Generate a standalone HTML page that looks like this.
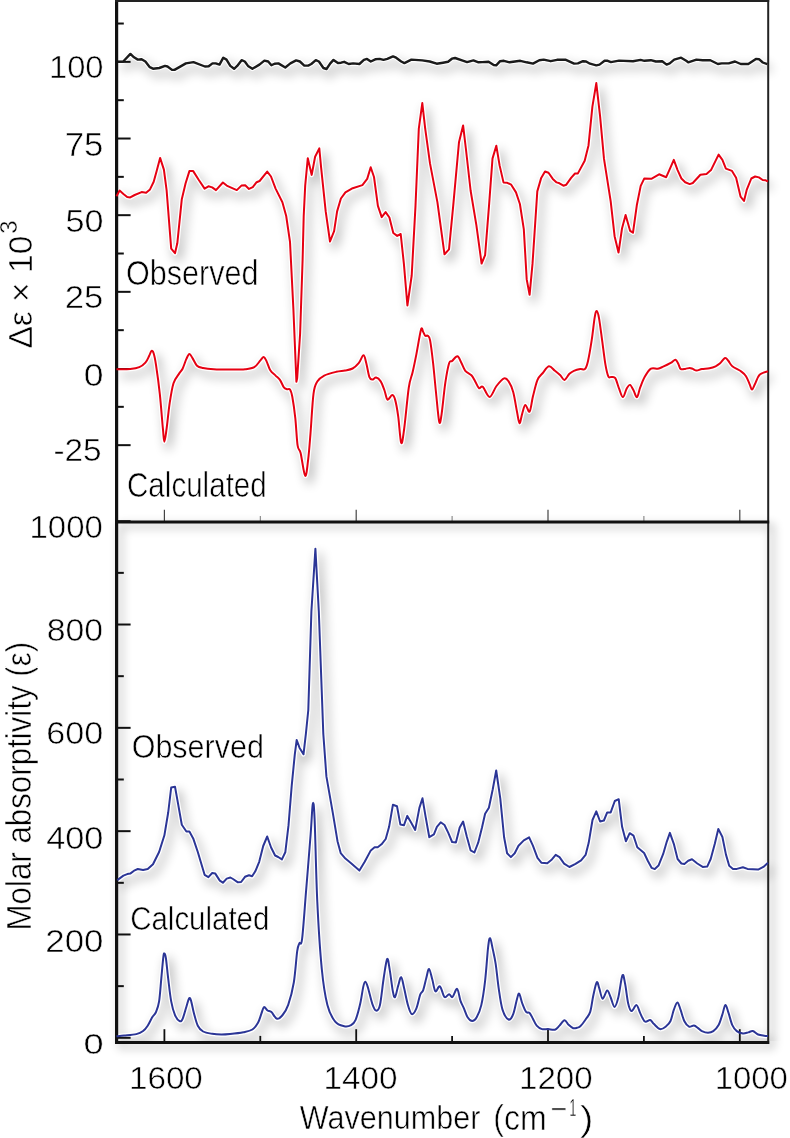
<!DOCTYPE html>
<html><head><meta charset="utf-8"><title>Spectra</title>
<style>
html,body{margin:0;padding:0;background:#fff;}
svg{display:block;}
text{font-family:"Liberation Sans",sans-serif;fill:#000;stroke:#fff;stroke-width:0.5px;}
</style></head><body>
<svg width="790" height="1138" viewBox="0 0 790 1138">
<defs>
<filter id="blur" x="-10%" y="-10%" width="120%" height="120%"><feGaussianBlur stdDeviation="5.5"/></filter>
<filter id="blur2" x="-10%" y="-10%" width="120%" height="120%"><feGaussianBlur stdDeviation="5"/></filter>
<clipPath id="cp"><rect x="118" y="2" width="672" height="1039"/></clipPath><clipPath id="cp2"><rect x="115" y="0" width="654" height="1044"/></clipPath>
</defs>
<rect width="790" height="1138" fill="#fff"/>

<g filter="url(#blur2)" opacity="0.2"><rect x="120.6" y="526.0" width="651.6" height="520.5" fill="none" stroke="#000" stroke-width="5"/></g>
<g clip-path="url(#cp)"><g filter="url(#blur)" opacity="0.27" transform="translate(4,6)">
<path d="M117.8,61.7 L123.2,61.5 L130.4,53.9 L134,57.3 L137.8,59.6 L141.6,59.2 L145.4,61.5 L149.8,67.2 L153,68.7 L159.3,68 L165,65.9 L167.5,66.5 L172,69.9 L174.5,69.9 L185.9,63.4 L193.5,62.1 L204.9,66.5 L208.7,66.3 L212.5,63.4 L215.7,63.4 L219.5,64.6 L223.3,57.7 L226.5,59.6 L230.3,65.9 L234.1,68.8 L237.2,65.9 L241.6,60.2 L244.8,61.5 L248,65.9 L252.4,68.8 L259.4,64.6 L264.4,60.6 L268.2,61.5 L271.4,65.3 L274.6,63.7 L278.4,63.4 L285.3,67.5 L290.4,63.4 L296.1,60.4 L299.9,61.5 L304.3,65.6 L308.2,65.6 L311.3,64 L315.8,60.2 L318.9,61.5 L323.4,68 L326.5,69 L330.3,63.4 L333.5,59.9 L337.9,63 L341.1,62.7 L344.2,61.8 L348.7,64 L353.1,63.4 L359.4,64 L363.9,59.9 L367,58.9 L370.8,61.5 L375.3,59.3 L379.7,58.9 L383.5,59.9 L387.3,58.9 L393,56.4 L396.1,57.7 L401.2,61.5 L404.4,63.1 L411.4,59.6 L422.2,60.4 L429.7,61.5 L436.7,63.7 L443,62.7 L448.1,61.8 L451.9,58.7 L455.1,58 L462,60.4 L467.1,62.1 L473.4,60.4 L478.5,62.3 L482.3,62.1 L488.6,61.7 L493.7,65 L496.2,65.3 L500.1,61.2 L503.9,60.8 L509.6,62.3 L520.3,60.8 L526.6,62.3 L533,63.6 L539.3,60.2 L543.7,59.6 L550.7,61.2 L557,59.8 L565.9,59.8 L574.1,63.6 L577.9,63.4 L583,61.2 L586.1,61.5 L590,63.7 L596.3,65.3 L599.5,64.6 L604.6,60.8 L607.1,60.6 L610.9,62.1 L619.1,60.6 L633,61.2 L640.6,59.9 L644.4,60.8 L650.8,60.2 L655.8,61.5 L662.2,61.2 L666.6,64.6 L669.7,63.4 L674.2,59.6 L681.1,57.7 L686.2,60.8 L688.2,62.3 L696.4,59.6 L702.7,60.2 L710.3,60.2 L717.9,64 L721.7,63.4 L728.7,63.4 L735,61.5 L740.7,64 L748.3,64 L755.9,58.9 L759,59.2 L762.8,62.5 L767.3,64.2" fill="none" stroke="#000" stroke-width="5" stroke-linejoin="round"/>
<path d="M116.5,196.2 L119.6,190.6 L123.4,193.9 L127.2,197 L130.2,197.4 L134.7,195 L141.6,192.1 L146.1,192.7 L150,189.4 L153.7,181.8 L156.8,170.4 L160.1,157.9 L163.9,169.6 L166.6,190.1 L171.2,248.6 L175,253.2 L177.3,243.3 L181.8,199.2 L185.6,183.3 L189.4,171.1 L193.2,171.1 L198.5,179.5 L204.6,188.6 L208.4,186.3 L212.2,187.4 L216,190.1 L222.9,182.5 L226.7,185.6 L230,187.1 L236.8,190.1 L241.4,185.6 L245.2,185.3 L249,188.9 L252.8,187.1 L256.6,182.2 L259.6,181 L267.2,171.6 L271,176.5 L275.6,188.6 L282.4,202.3 L286.2,216 L290,241.8 L293.4,309.2 L296.4,381.8 L297.2,378 L300.1,333.8 L302.6,260 L303.7,216 L305.2,185.6 L307.8,158.2 L311.7,174.9 L315.1,156.7 L319.3,148.4 L321.1,167.3 L325.7,211.4 L330,241.5 L334.1,231.1 L337.1,211.4 L340.9,198.5 L345.4,192.4 L352.7,188.2 L362.4,185.1 L367.2,178.9 L370.7,167.3 L374,177 L377.9,205.9 L381.7,217.1 L385.6,212.1 L389.4,217.5 L393.3,233 L397.2,235.9 L400.7,234 L403.9,263.9 L407.4,305.5 L411.7,275.5 L415.5,205.9 L418.8,128.6 L422.3,103.1 L425.2,128.6 L430,163.4 L437.4,202.1 L444.5,254.3 L449,249.4 L453.2,205.9 L459,142.2 L463.1,125.4 L465.8,148 L470.6,190.5 L476.4,225.3 L481.6,263.5 L485.1,255.2 L489,205.9 L492.5,158.6 L496.3,145.7 L499.6,165.4 L503.5,182.4 L507.3,182.8 L511.2,184.7 L516,192.4 L519.9,204 L523.8,229.1 L526.7,279.4 L529.6,294.8 L532.5,263.9 L537.3,191.4 L541.2,177.9 L545,171.5 L548.5,172.7 L552.8,178.9 L556.6,182.4 L559.5,183.3 L563.4,185.7 L566.3,184.7 L571.1,177.9 L575,173.5 L577.9,173.4 L584.7,160.8 L588.5,145.4 L592.4,106.7 L596.3,83.1 L600.1,116.4 L604,158.9 L610.7,201.4 L614.6,236.2 L618.5,252.6 L622,228.5 L625.6,214.9 L630.1,230.8 L633,232.7 L636.8,205.3 L640.7,185.9 L644.2,178.6 L651.3,178.8 L659.1,174.3 L666.2,177.2 L670,168.6 L673.8,159.8 L677.6,170.1 L681.4,178.5 L685.2,182.3 L689.7,184.1 L692.8,183 L700.4,174.7 L706.5,173.9 L711,170.1 L718.6,154.6 L722.4,159.8 L725.9,168.6 L732,170.9 L736.1,177.7 L740.6,196.7 L744,201 L746.7,189.9 L751.3,178.5 L755.1,176.5 L758.9,177.4 L762.7,180 L765.7,180.3 L768,181.5" fill="none" stroke="#000" stroke-width="5" stroke-linejoin="round"/>
<path d="M116.5,369.2 C118.78,369.17 126.4,369.33 130.2,369 C134,368.67 136.77,368.25 139.3,367.2 C141.83,366.15 143.75,364.6 145.4,362.7 C147.05,360.8 148.18,357.78 149.2,355.8 C150.22,353.82 150.75,351.18 151.5,350.8 C152.25,350.42 152.95,351.15 153.7,353.5 C154.45,355.85 154.98,358.18 156,364.9 C157.02,371.62 158.65,383.17 159.8,393.8 C160.95,404.43 162.13,420.72 162.9,428.7 C163.67,436.68 163.78,441.7 164.4,441.7 C165.02,441.7 165.72,435.17 166.6,428.7 C167.48,422.23 168.55,410.48 169.7,402.9 C170.85,395.32 171.98,388 173.5,383.2 C175.02,378.4 177.28,376.52 178.8,374.1 C180.32,371.68 181.33,371.23 182.6,368.7 C183.87,366.17 185.27,361.35 186.4,358.9 C187.53,356.45 188.38,354.13 189.4,354 C190.42,353.87 191.23,356.15 192.5,358.1 C193.77,360.05 195.23,364.05 197,365.7 C198.77,367.35 200.32,367.42 203.1,368 C205.88,368.58 209.22,368.95 213.7,369.2 C218.18,369.45 224.75,369.5 230,369.5 C235.25,369.5 241.15,369.58 245.2,369.2 C249.25,368.82 251.77,368.67 254.3,367.2 C256.83,365.73 258.83,362.1 260.4,360.4 C261.97,358.7 262.68,356.88 263.7,357 C264.72,357.12 265.4,358.88 266.5,361.1 C267.6,363.32 268.78,367.88 270.3,370.3 C271.82,372.72 273.97,373.97 275.6,375.6 C277.23,377.23 278.72,378.13 280.1,380.1 C281.48,382.07 282.75,385.88 283.9,387.4 C285.05,388.92 285.98,388.85 287,389.2 C288.02,389.55 289.12,388.23 290,389.5 C290.88,390.77 291.42,392.03 292.3,396.8 C293.18,401.57 294.42,410 295.3,418.1 C296.18,426.2 296.72,439.58 297.6,445.4 C298.48,451.22 299.33,447.93 300.6,453 C301.87,458.07 303.93,474.78 305.2,475.8 C306.47,476.82 307.32,466.18 308.2,459.1 C309.08,452.02 309.62,444.18 310.5,433.3 C311.38,422.42 312.37,402.42 313.5,393.8 C314.63,385.18 315.52,384.63 317.3,381.6 C319.08,378.57 321.03,377.23 324.2,375.6 C327.37,373.97 332.83,372.65 336.3,371.8 C339.77,370.95 342.28,371.05 345,370.5 C347.72,369.95 350.32,369.72 352.6,368.5 C354.88,367.28 356.88,365.4 358.7,363.2 C360.52,361 362.23,355.3 363.5,355.3 C364.77,355.3 365.33,359.62 366.3,363.2 C367.27,366.78 368.3,374.07 369.3,376.8 C370.3,379.53 371.17,379.47 372.3,379.6 C373.43,379.73 374.7,377.3 376.1,377.6 C377.5,377.9 379.3,379.25 380.7,381.4 C382.1,383.55 383.37,387.47 384.5,390.5 C385.63,393.53 386.23,398.83 387.5,399.6 C388.77,400.37 390.83,395.1 392.1,395.1 C393.37,395.1 394.08,396.07 395.1,399.6 C396.12,403.13 397.18,409.08 398.2,416.3 C399.22,423.52 400.2,440.87 401.2,442.9 C402.2,444.93 402.93,437.73 404.2,428.5 C405.47,419.27 407.4,396.87 408.8,387.5 C410.2,378.13 411.33,377.87 412.6,372.3 C413.87,366.73 415,361.2 416.4,354.1 C417.8,347 419.87,333.38 421,329.7 C422.13,326.02 422.5,330.98 423.2,332 C423.9,333.02 424.43,335.17 425.2,335.8 C425.97,336.43 426.98,335.03 427.8,335.8 C428.62,336.57 429.22,335.83 430.1,340.4 C430.98,344.97 432.1,354.35 433.1,363.2 C434.1,372.05 435.08,383.75 436.1,393.5 C437.12,403.25 438.3,418.15 439.2,421.7 C440.1,425.25 440.48,421.27 441.5,414.8 C442.52,408.33 444.03,391.5 445.3,382.9 C446.57,374.3 447.97,366.87 449.1,363.2 C450.23,359.53 450.72,362.05 452.1,360.9 C453.48,359.75 455.88,356.05 457.4,356.3 C458.92,356.55 459.88,359.98 461.2,362.4 C462.52,364.82 463.6,368.65 465.3,370.8 C467,372.95 469.75,373.53 471.4,375.3 C473.05,377.07 473.93,379.25 475.2,381.4 C476.47,383.55 477.73,387.32 479,388.2 C480.27,389.08 481.03,385.25 482.8,386.7 C484.57,388.15 487.32,397.02 489.6,396.9 C491.88,396.78 494.08,389.08 496.5,386 C498.92,382.92 502.08,379.17 504.1,378.4 C506.12,377.63 507.08,379.13 508.6,381.4 C510.12,383.67 511.8,386.93 513.2,392 C514.6,397.07 515.95,406.6 517,411.8 C518.05,417 518.62,422.95 519.5,423.2 C520.38,423.45 521.33,416.35 522.3,413.3 C523.27,410.25 524.08,405.2 525.3,404.9 C526.52,404.6 528.33,412.88 529.6,411.5 C530.87,410.12 531.58,401.87 532.9,396.6 C534.22,391.33 535.85,383.83 537.5,379.9 C539.15,375.97 540.9,375.28 542.8,373 C544.7,370.72 546.88,366.57 548.9,366.2 C550.92,365.83 553,369.28 554.9,370.8 C556.8,372.32 558.7,373.78 560.3,375.3 C561.9,376.82 562.98,380.15 564.5,379.9 C566.02,379.65 567.83,375.32 569.4,373.8 C570.97,372.28 572.08,371.6 573.9,370.8 C575.72,370 578.47,369.3 580.3,369 C582.13,368.7 583.63,370.27 584.9,369 C586.17,367.73 586.77,366.22 587.9,361.4 C589.03,356.58 590.57,347.45 591.7,340.1 C592.83,332.75 593.87,322.15 594.7,317.3 C595.53,312.45 595.98,310.87 596.7,311 C597.42,311.13 598.07,313 599,318.1 C599.93,323.2 601.23,333.88 602.3,341.6 C603.37,349.32 604.38,358.57 605.4,364.4 C606.42,370.23 607.38,374.52 608.4,376.6 C609.42,378.68 610.35,376.65 611.5,376.9 C612.65,377.15 614.03,376.13 615.3,378.1 C616.57,380.07 617.83,385.53 619.1,388.7 C620.37,391.87 621.65,397.1 622.9,397.1 C624.15,397.1 625.42,390.73 626.6,388.7 C627.78,386.67 628.85,384.63 630,384.9 C631.15,385.17 632.33,388.27 633.5,390.3 C634.67,392.33 635.87,397.62 637,397.1 C638.13,396.58 638.98,390.62 640.3,387.2 C641.62,383.78 643.12,379.68 644.9,376.6 C646.68,373.52 648.85,370.02 651,368.7 C653.15,367.38 655.78,369.03 657.8,368.7 C659.82,368.37 660.95,367.67 663.1,366.7 C665.25,365.73 668.63,364.07 670.7,362.9 C672.77,361.73 674.22,359.5 675.5,359.7 C676.78,359.9 677.55,362.57 678.4,364.1 C679.25,365.63 679.47,368.1 680.6,368.9 C681.73,369.7 683.68,369.07 685.2,368.9 C686.72,368.73 688.43,367.9 689.7,367.9 C690.97,367.9 691.65,368.45 692.8,368.9 C693.95,369.35 695.08,370.57 696.6,370.6 C698.12,370.63 699.75,369.48 701.9,369.1 C704.05,368.72 707.22,368.77 709.5,368.3 C711.78,367.83 713.83,367.13 715.6,366.3 C717.37,365.47 718.53,364.68 720.1,363.3 C721.67,361.92 723.6,358.38 725,358 C726.4,357.62 727.28,359.62 728.5,361 C729.72,362.38 730.15,364.53 732.3,366.3 C734.45,368.07 739.12,369.95 741.4,371.6 C743.68,373.25 744.6,374.03 746,376.2 C747.4,378.37 748.8,382.37 749.8,384.6 C750.8,386.83 751.12,389.73 752,389.6 C752.88,389.47 753.83,386.28 755.1,383.8 C756.37,381.32 757.45,376.78 759.6,374.7 C761.75,372.62 766.6,371.87 768,371.3" fill="none" stroke="#000" stroke-width="5" stroke-linejoin="round"/>
<path d="M117.3,880.1 L123.4,875.6 L127.2,874.1 L130.2,873.6 L134.7,870.3 L137.8,869 L143.1,870 L147.7,869 L153,864.2 L159.1,852 L164.4,835.3 L168.2,812.5 L171.2,787.5 L175,786.7 L178,803.4 L181.8,824.7 L186.4,831.5 L189.4,831.5 L193.2,838.4 L197.8,852 L204.6,874.8 L208.4,877.1 L212.2,873 L215.3,873.6 L219.8,880.6 L222.9,882.7 L226.7,878.6 L230.4,877.5 L233,879 L237.9,882.3 L241.1,882 L245,876.8 L249,875.2 L252.1,876.3 L255.3,871.3 L259.2,861.8 L263.2,846 L267.2,836.5 L271.1,847.5 L275.1,855.5 L278.2,857 L281.9,859.4 L285.3,852.3 L288.5,825.4 L291.7,785.9 L294.8,754.3 L296.7,740 L299.6,747.9 L303.5,754.3 L305.9,733.7 L308.3,710 L311.4,611.2 L315.4,548.7 L318.8,611.2 L321.7,690 L323.3,733.7 L326.4,776.4 L332.8,812.8 L337.5,841.2 L340.7,853.1 L345.4,858.6 L351.1,863.3 L359.4,870.6 L364.7,861.8 L370.8,850.4 L374.6,847.3 L377.7,847.3 L381.5,844.3 L385.7,839 L389.1,826.8 L392.9,804.8 L397,806.3 L400.4,824.6 L403.9,825.3 L407.3,815.9 L411.1,822.6 L415.2,829.9 L419.4,807.9 L422.5,798.3 L425.5,816.2 L429.3,837.2 L433.9,834.4 L436.9,826.8 L440.7,822.3 L444.5,825 L448.3,832.9 L452.1,842 L455.9,842.5 L459.7,827.6 L463.1,821.6 L466.8,836.6 L470.6,850.3 L474.4,852.5 L478.2,842.7 L482,827.5 L485.1,813.8 L488.9,807.7 L492.7,789.5 L496.2,770.5 L500.3,798.6 L504.1,837.3 L507.1,853.3 L510.9,857.1 L514.7,853.3 L518.5,845.7 L523.8,840.4 L529.1,837.3 L532.9,845.7 L537.5,857.9 L541.3,862.7 L547.3,863.2 L551.9,859.4 L555.7,854.8 L559.5,857.1 L564.1,863.6 L569.4,867 L575.5,863.9 L581.1,860.3 L585.6,854.9 L588.7,842.8 L592.5,820 L596.3,811.3 L600.1,821.5 L603.9,820.5 L607.2,812.4 L610.7,812.4 L614.8,801 L618.7,799.2 L622.1,826.8 L625.9,841.3 L629.7,833.2 L633.5,835.6 L637.3,847.3 L644.1,853 L647.9,861 L651.7,867.9 L654.8,869.1 L658.5,865.6 L663.1,854.2 L666.9,841.3 L669.9,832.9 L673.8,843.8 L677.6,859 L681.4,863.5 L684.4,863.9 L688.2,860.8 L692,859.3 L697.3,863.5 L702.7,866.9 L707.2,866.6 L710.7,859 L714.8,843.8 L718.3,828.9 L722.4,837 L725.9,854.4 L729.2,865.8 L733,868.9 L736.8,868.9 L742.9,867.3 L747.5,868.9 L758.1,869.6 L763.4,866.9 L768,862.8" fill="none" stroke="#000" stroke-width="5" stroke-linejoin="round"/>
<path d="M116.5,1036.3 C117.77,1036.18 120.8,1035.97 124.1,1035.6 C127.4,1035.23 133.13,1034.87 136.3,1034.1 C139.47,1033.33 141.2,1032.4 143.1,1031 C145,1029.6 146.18,1027.98 147.7,1025.7 C149.22,1023.42 150.82,1019.58 152.2,1017.3 C153.58,1015.02 154.85,1014.65 156,1012 C157.15,1009.35 158.22,1006.97 159.1,1001.4 C159.98,995.83 160.6,985.95 161.3,978.6 C162,971.25 162.78,961.48 163.3,957.3 C163.82,953.12 163.97,953.37 164.4,953.5 C164.83,953.63 165.27,953.92 165.9,958.1 C166.53,962.28 167.32,971.38 168.2,978.6 C169.08,985.82 170.07,995.32 171.2,1001.4 C172.33,1007.48 173.6,1011.82 175,1015.1 C176.4,1018.38 178.33,1020.47 179.6,1021.1 C180.87,1021.73 181.47,1021.3 182.6,1018.9 C183.73,1016.5 185.32,1010.12 186.4,1006.7 C187.48,1003.28 188.33,999.42 189.1,998.4 C189.87,997.38 190.18,998.08 191,1000.6 C191.82,1003.12 192.87,1009.32 194,1013.5 C195.13,1017.68 196.28,1022.7 197.8,1025.7 C199.32,1028.7 200.7,1030.15 203.1,1031.5 C205.5,1032.85 209.17,1033.3 212.2,1033.8 C215.23,1034.3 218.33,1034.47 221.3,1034.5 C224.27,1034.53 226.32,1034.38 230,1034 C233.68,1033.62 239.67,1032.95 243.4,1032.2 C247.13,1031.45 249.97,1031.07 252.4,1029.5 C254.83,1027.93 256.52,1025.4 258,1022.8 C259.48,1020.2 260.3,1016.52 261.3,1013.9 C262.3,1011.28 262.95,1007.67 264,1007.1 C265.05,1006.53 266.37,1009.67 267.6,1010.5 C268.83,1011.33 269.83,1010.72 271.4,1012.1 C272.97,1013.48 275.13,1018.32 277,1018.8 C278.87,1019.28 280.73,1017.32 282.6,1015 C284.47,1012.68 286.33,1010.32 288.2,1004.9 C290.07,999.48 292.3,991.45 293.8,982.5 C295.3,973.55 296.27,957.73 297.2,951.2 C298.13,944.67 298.58,945.35 299.4,943.3 C300.22,941.25 300.98,947.67 302.1,938.9 C303.22,930.13 304.68,908.05 306.1,890.7 C307.52,873.35 309.48,849.27 310.6,834.8 C311.72,820.33 312.13,806.52 312.8,803.9 C313.47,801.28 313.85,802.77 314.6,819.1 C315.35,835.43 316.1,876.9 317.3,901.9 C318.5,926.9 320.12,951.93 321.8,969.1 C323.48,986.27 325.17,996.13 327.4,1004.9 C329.63,1013.67 332.4,1018.15 335.2,1021.7 C338,1025.25 341.55,1025.63 344.2,1026.2 C346.85,1026.77 349.2,1026.17 351.1,1025.1 C353,1024.03 354.08,1023.35 355.6,1019.8 C357.12,1016.25 358.93,1009.25 360.2,1003.8 C361.47,998.35 362.37,990.77 363.2,987.1 C364.03,983.43 364.43,981.8 365.2,981.8 C365.97,981.8 366.62,983.43 367.8,987.1 C368.98,990.77 370.92,999.88 372.3,1003.8 C373.68,1007.72 374.83,1010.35 376.1,1010.6 C377.37,1010.85 378.63,1010.73 379.9,1005.3 C381.17,999.87 382.48,985.72 383.7,978 C384.92,970.28 386.18,960.27 387.2,959 C388.22,957.73 388.85,964.97 389.8,970.4 C390.75,975.83 392.02,987.17 392.9,991.6 C393.78,996.03 394.22,998 395.1,997 C395.98,996 397.18,988.9 398.2,985.6 C399.22,982.3 400.2,976.7 401.2,977.2 C402.2,977.7 403.07,983.92 404.2,988.6 C405.33,993.28 406.73,1001.05 408,1005.3 C409.27,1009.55 410.4,1013.58 411.8,1014.1 C413.2,1014.62 415,1011.63 416.4,1008.4 C417.8,1005.17 419.07,997.75 420.2,994.7 C421.33,991.65 422.18,992.88 423.2,990.1 C424.22,987.32 425.33,981.53 426.3,978 C427.27,974.47 428,968.65 429,968.9 C430,969.15 431.23,975.77 432.3,979.5 C433.37,983.23 434.13,990.17 435.4,991.3 C436.67,992.43 438.38,985.35 439.9,986.3 C441.42,987.25 442.97,995.68 444.5,997 C446.03,998.32 447.77,994.2 449.1,994.2 C450.43,994.2 451.17,997.88 452.5,997 C453.83,996.12 455.77,988.27 457.1,988.9 C458.43,989.53 459.38,997.6 460.5,1000.8 C461.62,1004 462.62,1005.37 463.8,1008.1 C464.98,1010.83 466.2,1015.05 467.6,1017.2 C469,1019.35 470.68,1021 472.2,1021 C473.72,1021 475.18,1019.85 476.7,1017.2 C478.22,1014.55 479.9,1011.17 481.3,1005.1 C482.7,999.03 483.97,990.43 485.1,980.8 C486.23,971.17 487.27,954.4 488.1,947.3 C488.93,940.2 489.33,937.93 490.1,938.2 C490.87,938.47 491.77,944.58 492.7,948.9 C493.63,953.22 494.7,957.52 495.7,964.1 C496.7,970.68 497.57,980.82 498.7,988.4 C499.83,995.98 500.85,1004.42 502.5,1009.6 C504.15,1014.78 506.82,1018.73 508.6,1019.5 C510.38,1020.27 511.8,1017.62 513.2,1014.2 C514.6,1010.78 516,1002.42 517,999 C518,995.58 518.32,992.95 519.2,993.7 C520.08,994.45 521.15,1000.47 522.3,1003.5 C523.45,1006.53 524.88,1010.32 526.1,1011.9 C527.32,1013.48 528.47,1011.87 529.6,1013 C530.73,1014.13 531.72,1016.6 532.9,1018.7 C534.08,1020.8 535.18,1023.87 536.7,1025.6 C538.22,1027.33 540.1,1028.52 542,1029.1 C543.9,1029.68 545.95,1029 548.1,1029.1 C550.25,1029.2 553,1030.28 554.9,1029.7 C556.8,1029.12 557.9,1027.17 559.5,1025.6 C561.1,1024.03 562.98,1020.43 564.5,1020.3 C566.02,1020.17 567.15,1023.48 568.6,1024.8 C570.05,1026.12 571.8,1027.7 573.2,1028.2 C574.6,1028.7 575.82,1028.12 577,1027.8 C578.18,1027.48 578.87,1027.68 580.3,1026.3 C581.73,1024.92 583.95,1021.9 585.6,1019.5 C587.25,1017.1 588.93,1015.82 590.2,1011.9 C591.47,1007.98 592.12,1000.93 593.2,996 C594.28,991.07 595.68,983.57 596.7,982.3 C597.72,981.03 598.32,985.67 599.3,988.4 C600.28,991.13 601.28,998.33 602.6,998.7 C603.92,999.07 605.85,990.8 607.2,990.6 C608.55,990.4 609.48,994.78 610.7,997.5 C611.92,1000.22 613.23,1006.9 614.5,1006.9 C615.77,1006.9 616.98,1002.75 618.3,997.5 C619.62,992.25 621.27,977.68 622.4,975.4 C623.53,973.12 624.13,979.12 625.1,983.8 C626.07,988.48 627.13,998.95 628.2,1003.5 C629.27,1008.05 630.12,1010.83 631.5,1011.1 C632.88,1011.37 635.03,1004.72 636.5,1005.1 C637.97,1005.48 638.9,1010.67 640.3,1013.4 C641.7,1016.13 643.25,1020.4 644.9,1021.5 C646.55,1022.6 648.68,1019.57 650.2,1020 C651.72,1020.43 652.35,1022.58 654,1024.1 C655.65,1025.62 658.08,1028.73 660.1,1029.1 C662.12,1029.47 664.37,1027.65 666.1,1026.3 C667.83,1024.95 669.22,1023.73 670.5,1021 C671.78,1018.27 672.65,1012.98 673.8,1009.9 C674.95,1006.82 676.27,1002.5 677.4,1002.5 C678.53,1002.5 679.43,1006.77 680.6,1009.9 C681.77,1013.03 683,1018.52 684.4,1021.3 C685.8,1024.08 687.4,1025.92 689,1026.6 C690.6,1027.28 692.48,1025.15 694,1025.4 C695.52,1025.65 696.78,1027.15 698.1,1028.1 C699.42,1029.05 700.25,1030.33 701.9,1031.1 C703.55,1031.87 706.1,1032.7 708,1032.7 C709.9,1032.7 711.53,1032.37 713.3,1031.1 C715.07,1029.83 717.08,1027.88 718.6,1025.1 C720.12,1022.32 721.27,1017.75 722.4,1014.4 C723.53,1011.05 724.38,1005.25 725.4,1005 C726.42,1004.75 727.35,1009.55 728.5,1012.9 C729.65,1016.25 730.92,1022.07 732.3,1025.1 C733.68,1028.13 735.03,1029.72 736.8,1031.1 C738.57,1032.48 741,1033.18 742.9,1033.4 C744.8,1033.62 746.55,1032.78 748.2,1032.4 C749.85,1032.02 751.15,1030.75 752.8,1031.1 C754.45,1031.45 756.2,1033.73 758.1,1034.5 C760,1035.27 762.55,1035.45 764.2,1035.7 C765.85,1035.95 767.37,1035.95 768,1036" fill="none" stroke="#000" stroke-width="5" stroke-linejoin="round"/>
</g></g>
<g clip-path="url(#cp)">
<path d="M117.8,61.7 L123.2,61.5 L130.4,53.9 L134,57.3 L137.8,59.6 L141.6,59.2 L145.4,61.5 L149.8,67.2 L153,68.7 L159.3,68 L165,65.9 L167.5,66.5 L172,69.9 L174.5,69.9 L185.9,63.4 L193.5,62.1 L204.9,66.5 L208.7,66.3 L212.5,63.4 L215.7,63.4 L219.5,64.6 L223.3,57.7 L226.5,59.6 L230.3,65.9 L234.1,68.8 L237.2,65.9 L241.6,60.2 L244.8,61.5 L248,65.9 L252.4,68.8 L259.4,64.6 L264.4,60.6 L268.2,61.5 L271.4,65.3 L274.6,63.7 L278.4,63.4 L285.3,67.5 L290.4,63.4 L296.1,60.4 L299.9,61.5 L304.3,65.6 L308.2,65.6 L311.3,64 L315.8,60.2 L318.9,61.5 L323.4,68 L326.5,69 L330.3,63.4 L333.5,59.9 L337.9,63 L341.1,62.7 L344.2,61.8 L348.7,64 L353.1,63.4 L359.4,64 L363.9,59.9 L367,58.9 L370.8,61.5 L375.3,59.3 L379.7,58.9 L383.5,59.9 L387.3,58.9 L393,56.4 L396.1,57.7 L401.2,61.5 L404.4,63.1 L411.4,59.6 L422.2,60.4 L429.7,61.5 L436.7,63.7 L443,62.7 L448.1,61.8 L451.9,58.7 L455.1,58 L462,60.4 L467.1,62.1 L473.4,60.4 L478.5,62.3 L482.3,62.1 L488.6,61.7 L493.7,65 L496.2,65.3 L500.1,61.2 L503.9,60.8 L509.6,62.3 L520.3,60.8 L526.6,62.3 L533,63.6 L539.3,60.2 L543.7,59.6 L550.7,61.2 L557,59.8 L565.9,59.8 L574.1,63.6 L577.9,63.4 L583,61.2 L586.1,61.5 L590,63.7 L596.3,65.3 L599.5,64.6 L604.6,60.8 L607.1,60.6 L610.9,62.1 L619.1,60.6 L633,61.2 L640.6,59.9 L644.4,60.8 L650.8,60.2 L655.8,61.5 L662.2,61.2 L666.6,64.6 L669.7,63.4 L674.2,59.6 L681.1,57.7 L686.2,60.8 L688.2,62.3 L696.4,59.6 L702.7,60.2 L710.3,60.2 L717.9,64 L721.7,63.4 L728.7,63.4 L735,61.5 L740.7,64 L748.3,64 L755.9,58.9 L759,59.2 L762.8,62.5 L767.3,64.2" fill="none" stroke="#fff" stroke-width="4.6" stroke-linejoin="round"/>
<path d="M116.5,196.2 L119.6,190.6 L123.4,193.9 L127.2,197 L130.2,197.4 L134.7,195 L141.6,192.1 L146.1,192.7 L150,189.4 L153.7,181.8 L156.8,170.4 L160.1,157.9 L163.9,169.6 L166.6,190.1 L171.2,248.6 L175,253.2 L177.3,243.3 L181.8,199.2 L185.6,183.3 L189.4,171.1 L193.2,171.1 L198.5,179.5 L204.6,188.6 L208.4,186.3 L212.2,187.4 L216,190.1 L222.9,182.5 L226.7,185.6 L230,187.1 L236.8,190.1 L241.4,185.6 L245.2,185.3 L249,188.9 L252.8,187.1 L256.6,182.2 L259.6,181 L267.2,171.6 L271,176.5 L275.6,188.6 L282.4,202.3 L286.2,216 L290,241.8 L293.4,309.2 L296.4,381.8 L297.2,378 L300.1,333.8 L302.6,260 L303.7,216 L305.2,185.6 L307.8,158.2 L311.7,174.9 L315.1,156.7 L319.3,148.4 L321.1,167.3 L325.7,211.4 L330,241.5 L334.1,231.1 L337.1,211.4 L340.9,198.5 L345.4,192.4 L352.7,188.2 L362.4,185.1 L367.2,178.9 L370.7,167.3 L374,177 L377.9,205.9 L381.7,217.1 L385.6,212.1 L389.4,217.5 L393.3,233 L397.2,235.9 L400.7,234 L403.9,263.9 L407.4,305.5 L411.7,275.5 L415.5,205.9 L418.8,128.6 L422.3,103.1 L425.2,128.6 L430,163.4 L437.4,202.1 L444.5,254.3 L449,249.4 L453.2,205.9 L459,142.2 L463.1,125.4 L465.8,148 L470.6,190.5 L476.4,225.3 L481.6,263.5 L485.1,255.2 L489,205.9 L492.5,158.6 L496.3,145.7 L499.6,165.4 L503.5,182.4 L507.3,182.8 L511.2,184.7 L516,192.4 L519.9,204 L523.8,229.1 L526.7,279.4 L529.6,294.8 L532.5,263.9 L537.3,191.4 L541.2,177.9 L545,171.5 L548.5,172.7 L552.8,178.9 L556.6,182.4 L559.5,183.3 L563.4,185.7 L566.3,184.7 L571.1,177.9 L575,173.5 L577.9,173.4 L584.7,160.8 L588.5,145.4 L592.4,106.7 L596.3,83.1 L600.1,116.4 L604,158.9 L610.7,201.4 L614.6,236.2 L618.5,252.6 L622,228.5 L625.6,214.9 L630.1,230.8 L633,232.7 L636.8,205.3 L640.7,185.9 L644.2,178.6 L651.3,178.8 L659.1,174.3 L666.2,177.2 L670,168.6 L673.8,159.8 L677.6,170.1 L681.4,178.5 L685.2,182.3 L689.7,184.1 L692.8,183 L700.4,174.7 L706.5,173.9 L711,170.1 L718.6,154.6 L722.4,159.8 L725.9,168.6 L732,170.9 L736.1,177.7 L740.6,196.7 L744,201 L746.7,189.9 L751.3,178.5 L755.1,176.5 L758.9,177.4 L762.7,180 L765.7,180.3 L768,181.5" fill="none" stroke="#fff" stroke-width="4.6" stroke-linejoin="round"/>
<path d="M116.5,369.2 C118.78,369.17 126.4,369.33 130.2,369 C134,368.67 136.77,368.25 139.3,367.2 C141.83,366.15 143.75,364.6 145.4,362.7 C147.05,360.8 148.18,357.78 149.2,355.8 C150.22,353.82 150.75,351.18 151.5,350.8 C152.25,350.42 152.95,351.15 153.7,353.5 C154.45,355.85 154.98,358.18 156,364.9 C157.02,371.62 158.65,383.17 159.8,393.8 C160.95,404.43 162.13,420.72 162.9,428.7 C163.67,436.68 163.78,441.7 164.4,441.7 C165.02,441.7 165.72,435.17 166.6,428.7 C167.48,422.23 168.55,410.48 169.7,402.9 C170.85,395.32 171.98,388 173.5,383.2 C175.02,378.4 177.28,376.52 178.8,374.1 C180.32,371.68 181.33,371.23 182.6,368.7 C183.87,366.17 185.27,361.35 186.4,358.9 C187.53,356.45 188.38,354.13 189.4,354 C190.42,353.87 191.23,356.15 192.5,358.1 C193.77,360.05 195.23,364.05 197,365.7 C198.77,367.35 200.32,367.42 203.1,368 C205.88,368.58 209.22,368.95 213.7,369.2 C218.18,369.45 224.75,369.5 230,369.5 C235.25,369.5 241.15,369.58 245.2,369.2 C249.25,368.82 251.77,368.67 254.3,367.2 C256.83,365.73 258.83,362.1 260.4,360.4 C261.97,358.7 262.68,356.88 263.7,357 C264.72,357.12 265.4,358.88 266.5,361.1 C267.6,363.32 268.78,367.88 270.3,370.3 C271.82,372.72 273.97,373.97 275.6,375.6 C277.23,377.23 278.72,378.13 280.1,380.1 C281.48,382.07 282.75,385.88 283.9,387.4 C285.05,388.92 285.98,388.85 287,389.2 C288.02,389.55 289.12,388.23 290,389.5 C290.88,390.77 291.42,392.03 292.3,396.8 C293.18,401.57 294.42,410 295.3,418.1 C296.18,426.2 296.72,439.58 297.6,445.4 C298.48,451.22 299.33,447.93 300.6,453 C301.87,458.07 303.93,474.78 305.2,475.8 C306.47,476.82 307.32,466.18 308.2,459.1 C309.08,452.02 309.62,444.18 310.5,433.3 C311.38,422.42 312.37,402.42 313.5,393.8 C314.63,385.18 315.52,384.63 317.3,381.6 C319.08,378.57 321.03,377.23 324.2,375.6 C327.37,373.97 332.83,372.65 336.3,371.8 C339.77,370.95 342.28,371.05 345,370.5 C347.72,369.95 350.32,369.72 352.6,368.5 C354.88,367.28 356.88,365.4 358.7,363.2 C360.52,361 362.23,355.3 363.5,355.3 C364.77,355.3 365.33,359.62 366.3,363.2 C367.27,366.78 368.3,374.07 369.3,376.8 C370.3,379.53 371.17,379.47 372.3,379.6 C373.43,379.73 374.7,377.3 376.1,377.6 C377.5,377.9 379.3,379.25 380.7,381.4 C382.1,383.55 383.37,387.47 384.5,390.5 C385.63,393.53 386.23,398.83 387.5,399.6 C388.77,400.37 390.83,395.1 392.1,395.1 C393.37,395.1 394.08,396.07 395.1,399.6 C396.12,403.13 397.18,409.08 398.2,416.3 C399.22,423.52 400.2,440.87 401.2,442.9 C402.2,444.93 402.93,437.73 404.2,428.5 C405.47,419.27 407.4,396.87 408.8,387.5 C410.2,378.13 411.33,377.87 412.6,372.3 C413.87,366.73 415,361.2 416.4,354.1 C417.8,347 419.87,333.38 421,329.7 C422.13,326.02 422.5,330.98 423.2,332 C423.9,333.02 424.43,335.17 425.2,335.8 C425.97,336.43 426.98,335.03 427.8,335.8 C428.62,336.57 429.22,335.83 430.1,340.4 C430.98,344.97 432.1,354.35 433.1,363.2 C434.1,372.05 435.08,383.75 436.1,393.5 C437.12,403.25 438.3,418.15 439.2,421.7 C440.1,425.25 440.48,421.27 441.5,414.8 C442.52,408.33 444.03,391.5 445.3,382.9 C446.57,374.3 447.97,366.87 449.1,363.2 C450.23,359.53 450.72,362.05 452.1,360.9 C453.48,359.75 455.88,356.05 457.4,356.3 C458.92,356.55 459.88,359.98 461.2,362.4 C462.52,364.82 463.6,368.65 465.3,370.8 C467,372.95 469.75,373.53 471.4,375.3 C473.05,377.07 473.93,379.25 475.2,381.4 C476.47,383.55 477.73,387.32 479,388.2 C480.27,389.08 481.03,385.25 482.8,386.7 C484.57,388.15 487.32,397.02 489.6,396.9 C491.88,396.78 494.08,389.08 496.5,386 C498.92,382.92 502.08,379.17 504.1,378.4 C506.12,377.63 507.08,379.13 508.6,381.4 C510.12,383.67 511.8,386.93 513.2,392 C514.6,397.07 515.95,406.6 517,411.8 C518.05,417 518.62,422.95 519.5,423.2 C520.38,423.45 521.33,416.35 522.3,413.3 C523.27,410.25 524.08,405.2 525.3,404.9 C526.52,404.6 528.33,412.88 529.6,411.5 C530.87,410.12 531.58,401.87 532.9,396.6 C534.22,391.33 535.85,383.83 537.5,379.9 C539.15,375.97 540.9,375.28 542.8,373 C544.7,370.72 546.88,366.57 548.9,366.2 C550.92,365.83 553,369.28 554.9,370.8 C556.8,372.32 558.7,373.78 560.3,375.3 C561.9,376.82 562.98,380.15 564.5,379.9 C566.02,379.65 567.83,375.32 569.4,373.8 C570.97,372.28 572.08,371.6 573.9,370.8 C575.72,370 578.47,369.3 580.3,369 C582.13,368.7 583.63,370.27 584.9,369 C586.17,367.73 586.77,366.22 587.9,361.4 C589.03,356.58 590.57,347.45 591.7,340.1 C592.83,332.75 593.87,322.15 594.7,317.3 C595.53,312.45 595.98,310.87 596.7,311 C597.42,311.13 598.07,313 599,318.1 C599.93,323.2 601.23,333.88 602.3,341.6 C603.37,349.32 604.38,358.57 605.4,364.4 C606.42,370.23 607.38,374.52 608.4,376.6 C609.42,378.68 610.35,376.65 611.5,376.9 C612.65,377.15 614.03,376.13 615.3,378.1 C616.57,380.07 617.83,385.53 619.1,388.7 C620.37,391.87 621.65,397.1 622.9,397.1 C624.15,397.1 625.42,390.73 626.6,388.7 C627.78,386.67 628.85,384.63 630,384.9 C631.15,385.17 632.33,388.27 633.5,390.3 C634.67,392.33 635.87,397.62 637,397.1 C638.13,396.58 638.98,390.62 640.3,387.2 C641.62,383.78 643.12,379.68 644.9,376.6 C646.68,373.52 648.85,370.02 651,368.7 C653.15,367.38 655.78,369.03 657.8,368.7 C659.82,368.37 660.95,367.67 663.1,366.7 C665.25,365.73 668.63,364.07 670.7,362.9 C672.77,361.73 674.22,359.5 675.5,359.7 C676.78,359.9 677.55,362.57 678.4,364.1 C679.25,365.63 679.47,368.1 680.6,368.9 C681.73,369.7 683.68,369.07 685.2,368.9 C686.72,368.73 688.43,367.9 689.7,367.9 C690.97,367.9 691.65,368.45 692.8,368.9 C693.95,369.35 695.08,370.57 696.6,370.6 C698.12,370.63 699.75,369.48 701.9,369.1 C704.05,368.72 707.22,368.77 709.5,368.3 C711.78,367.83 713.83,367.13 715.6,366.3 C717.37,365.47 718.53,364.68 720.1,363.3 C721.67,361.92 723.6,358.38 725,358 C726.4,357.62 727.28,359.62 728.5,361 C729.72,362.38 730.15,364.53 732.3,366.3 C734.45,368.07 739.12,369.95 741.4,371.6 C743.68,373.25 744.6,374.03 746,376.2 C747.4,378.37 748.8,382.37 749.8,384.6 C750.8,386.83 751.12,389.73 752,389.6 C752.88,389.47 753.83,386.28 755.1,383.8 C756.37,381.32 757.45,376.78 759.6,374.7 C761.75,372.62 766.6,371.87 768,371.3" fill="none" stroke="#fff" stroke-width="4.6" stroke-linejoin="round"/>
<path d="M117.3,880.1 L123.4,875.6 L127.2,874.1 L130.2,873.6 L134.7,870.3 L137.8,869 L143.1,870 L147.7,869 L153,864.2 L159.1,852 L164.4,835.3 L168.2,812.5 L171.2,787.5 L175,786.7 L178,803.4 L181.8,824.7 L186.4,831.5 L189.4,831.5 L193.2,838.4 L197.8,852 L204.6,874.8 L208.4,877.1 L212.2,873 L215.3,873.6 L219.8,880.6 L222.9,882.7 L226.7,878.6 L230.4,877.5 L233,879 L237.9,882.3 L241.1,882 L245,876.8 L249,875.2 L252.1,876.3 L255.3,871.3 L259.2,861.8 L263.2,846 L267.2,836.5 L271.1,847.5 L275.1,855.5 L278.2,857 L281.9,859.4 L285.3,852.3 L288.5,825.4 L291.7,785.9 L294.8,754.3 L296.7,740 L299.6,747.9 L303.5,754.3 L305.9,733.7 L308.3,710 L311.4,611.2 L315.4,548.7 L318.8,611.2 L321.7,690 L323.3,733.7 L326.4,776.4 L332.8,812.8 L337.5,841.2 L340.7,853.1 L345.4,858.6 L351.1,863.3 L359.4,870.6 L364.7,861.8 L370.8,850.4 L374.6,847.3 L377.7,847.3 L381.5,844.3 L385.7,839 L389.1,826.8 L392.9,804.8 L397,806.3 L400.4,824.6 L403.9,825.3 L407.3,815.9 L411.1,822.6 L415.2,829.9 L419.4,807.9 L422.5,798.3 L425.5,816.2 L429.3,837.2 L433.9,834.4 L436.9,826.8 L440.7,822.3 L444.5,825 L448.3,832.9 L452.1,842 L455.9,842.5 L459.7,827.6 L463.1,821.6 L466.8,836.6 L470.6,850.3 L474.4,852.5 L478.2,842.7 L482,827.5 L485.1,813.8 L488.9,807.7 L492.7,789.5 L496.2,770.5 L500.3,798.6 L504.1,837.3 L507.1,853.3 L510.9,857.1 L514.7,853.3 L518.5,845.7 L523.8,840.4 L529.1,837.3 L532.9,845.7 L537.5,857.9 L541.3,862.7 L547.3,863.2 L551.9,859.4 L555.7,854.8 L559.5,857.1 L564.1,863.6 L569.4,867 L575.5,863.9 L581.1,860.3 L585.6,854.9 L588.7,842.8 L592.5,820 L596.3,811.3 L600.1,821.5 L603.9,820.5 L607.2,812.4 L610.7,812.4 L614.8,801 L618.7,799.2 L622.1,826.8 L625.9,841.3 L629.7,833.2 L633.5,835.6 L637.3,847.3 L644.1,853 L647.9,861 L651.7,867.9 L654.8,869.1 L658.5,865.6 L663.1,854.2 L666.9,841.3 L669.9,832.9 L673.8,843.8 L677.6,859 L681.4,863.5 L684.4,863.9 L688.2,860.8 L692,859.3 L697.3,863.5 L702.7,866.9 L707.2,866.6 L710.7,859 L714.8,843.8 L718.3,828.9 L722.4,837 L725.9,854.4 L729.2,865.8 L733,868.9 L736.8,868.9 L742.9,867.3 L747.5,868.9 L758.1,869.6 L763.4,866.9 L768,862.8" fill="none" stroke="#fff" stroke-width="4.6" stroke-linejoin="round"/>
<path d="M116.5,1036.3 C117.77,1036.18 120.8,1035.97 124.1,1035.6 C127.4,1035.23 133.13,1034.87 136.3,1034.1 C139.47,1033.33 141.2,1032.4 143.1,1031 C145,1029.6 146.18,1027.98 147.7,1025.7 C149.22,1023.42 150.82,1019.58 152.2,1017.3 C153.58,1015.02 154.85,1014.65 156,1012 C157.15,1009.35 158.22,1006.97 159.1,1001.4 C159.98,995.83 160.6,985.95 161.3,978.6 C162,971.25 162.78,961.48 163.3,957.3 C163.82,953.12 163.97,953.37 164.4,953.5 C164.83,953.63 165.27,953.92 165.9,958.1 C166.53,962.28 167.32,971.38 168.2,978.6 C169.08,985.82 170.07,995.32 171.2,1001.4 C172.33,1007.48 173.6,1011.82 175,1015.1 C176.4,1018.38 178.33,1020.47 179.6,1021.1 C180.87,1021.73 181.47,1021.3 182.6,1018.9 C183.73,1016.5 185.32,1010.12 186.4,1006.7 C187.48,1003.28 188.33,999.42 189.1,998.4 C189.87,997.38 190.18,998.08 191,1000.6 C191.82,1003.12 192.87,1009.32 194,1013.5 C195.13,1017.68 196.28,1022.7 197.8,1025.7 C199.32,1028.7 200.7,1030.15 203.1,1031.5 C205.5,1032.85 209.17,1033.3 212.2,1033.8 C215.23,1034.3 218.33,1034.47 221.3,1034.5 C224.27,1034.53 226.32,1034.38 230,1034 C233.68,1033.62 239.67,1032.95 243.4,1032.2 C247.13,1031.45 249.97,1031.07 252.4,1029.5 C254.83,1027.93 256.52,1025.4 258,1022.8 C259.48,1020.2 260.3,1016.52 261.3,1013.9 C262.3,1011.28 262.95,1007.67 264,1007.1 C265.05,1006.53 266.37,1009.67 267.6,1010.5 C268.83,1011.33 269.83,1010.72 271.4,1012.1 C272.97,1013.48 275.13,1018.32 277,1018.8 C278.87,1019.28 280.73,1017.32 282.6,1015 C284.47,1012.68 286.33,1010.32 288.2,1004.9 C290.07,999.48 292.3,991.45 293.8,982.5 C295.3,973.55 296.27,957.73 297.2,951.2 C298.13,944.67 298.58,945.35 299.4,943.3 C300.22,941.25 300.98,947.67 302.1,938.9 C303.22,930.13 304.68,908.05 306.1,890.7 C307.52,873.35 309.48,849.27 310.6,834.8 C311.72,820.33 312.13,806.52 312.8,803.9 C313.47,801.28 313.85,802.77 314.6,819.1 C315.35,835.43 316.1,876.9 317.3,901.9 C318.5,926.9 320.12,951.93 321.8,969.1 C323.48,986.27 325.17,996.13 327.4,1004.9 C329.63,1013.67 332.4,1018.15 335.2,1021.7 C338,1025.25 341.55,1025.63 344.2,1026.2 C346.85,1026.77 349.2,1026.17 351.1,1025.1 C353,1024.03 354.08,1023.35 355.6,1019.8 C357.12,1016.25 358.93,1009.25 360.2,1003.8 C361.47,998.35 362.37,990.77 363.2,987.1 C364.03,983.43 364.43,981.8 365.2,981.8 C365.97,981.8 366.62,983.43 367.8,987.1 C368.98,990.77 370.92,999.88 372.3,1003.8 C373.68,1007.72 374.83,1010.35 376.1,1010.6 C377.37,1010.85 378.63,1010.73 379.9,1005.3 C381.17,999.87 382.48,985.72 383.7,978 C384.92,970.28 386.18,960.27 387.2,959 C388.22,957.73 388.85,964.97 389.8,970.4 C390.75,975.83 392.02,987.17 392.9,991.6 C393.78,996.03 394.22,998 395.1,997 C395.98,996 397.18,988.9 398.2,985.6 C399.22,982.3 400.2,976.7 401.2,977.2 C402.2,977.7 403.07,983.92 404.2,988.6 C405.33,993.28 406.73,1001.05 408,1005.3 C409.27,1009.55 410.4,1013.58 411.8,1014.1 C413.2,1014.62 415,1011.63 416.4,1008.4 C417.8,1005.17 419.07,997.75 420.2,994.7 C421.33,991.65 422.18,992.88 423.2,990.1 C424.22,987.32 425.33,981.53 426.3,978 C427.27,974.47 428,968.65 429,968.9 C430,969.15 431.23,975.77 432.3,979.5 C433.37,983.23 434.13,990.17 435.4,991.3 C436.67,992.43 438.38,985.35 439.9,986.3 C441.42,987.25 442.97,995.68 444.5,997 C446.03,998.32 447.77,994.2 449.1,994.2 C450.43,994.2 451.17,997.88 452.5,997 C453.83,996.12 455.77,988.27 457.1,988.9 C458.43,989.53 459.38,997.6 460.5,1000.8 C461.62,1004 462.62,1005.37 463.8,1008.1 C464.98,1010.83 466.2,1015.05 467.6,1017.2 C469,1019.35 470.68,1021 472.2,1021 C473.72,1021 475.18,1019.85 476.7,1017.2 C478.22,1014.55 479.9,1011.17 481.3,1005.1 C482.7,999.03 483.97,990.43 485.1,980.8 C486.23,971.17 487.27,954.4 488.1,947.3 C488.93,940.2 489.33,937.93 490.1,938.2 C490.87,938.47 491.77,944.58 492.7,948.9 C493.63,953.22 494.7,957.52 495.7,964.1 C496.7,970.68 497.57,980.82 498.7,988.4 C499.83,995.98 500.85,1004.42 502.5,1009.6 C504.15,1014.78 506.82,1018.73 508.6,1019.5 C510.38,1020.27 511.8,1017.62 513.2,1014.2 C514.6,1010.78 516,1002.42 517,999 C518,995.58 518.32,992.95 519.2,993.7 C520.08,994.45 521.15,1000.47 522.3,1003.5 C523.45,1006.53 524.88,1010.32 526.1,1011.9 C527.32,1013.48 528.47,1011.87 529.6,1013 C530.73,1014.13 531.72,1016.6 532.9,1018.7 C534.08,1020.8 535.18,1023.87 536.7,1025.6 C538.22,1027.33 540.1,1028.52 542,1029.1 C543.9,1029.68 545.95,1029 548.1,1029.1 C550.25,1029.2 553,1030.28 554.9,1029.7 C556.8,1029.12 557.9,1027.17 559.5,1025.6 C561.1,1024.03 562.98,1020.43 564.5,1020.3 C566.02,1020.17 567.15,1023.48 568.6,1024.8 C570.05,1026.12 571.8,1027.7 573.2,1028.2 C574.6,1028.7 575.82,1028.12 577,1027.8 C578.18,1027.48 578.87,1027.68 580.3,1026.3 C581.73,1024.92 583.95,1021.9 585.6,1019.5 C587.25,1017.1 588.93,1015.82 590.2,1011.9 C591.47,1007.98 592.12,1000.93 593.2,996 C594.28,991.07 595.68,983.57 596.7,982.3 C597.72,981.03 598.32,985.67 599.3,988.4 C600.28,991.13 601.28,998.33 602.6,998.7 C603.92,999.07 605.85,990.8 607.2,990.6 C608.55,990.4 609.48,994.78 610.7,997.5 C611.92,1000.22 613.23,1006.9 614.5,1006.9 C615.77,1006.9 616.98,1002.75 618.3,997.5 C619.62,992.25 621.27,977.68 622.4,975.4 C623.53,973.12 624.13,979.12 625.1,983.8 C626.07,988.48 627.13,998.95 628.2,1003.5 C629.27,1008.05 630.12,1010.83 631.5,1011.1 C632.88,1011.37 635.03,1004.72 636.5,1005.1 C637.97,1005.48 638.9,1010.67 640.3,1013.4 C641.7,1016.13 643.25,1020.4 644.9,1021.5 C646.55,1022.6 648.68,1019.57 650.2,1020 C651.72,1020.43 652.35,1022.58 654,1024.1 C655.65,1025.62 658.08,1028.73 660.1,1029.1 C662.12,1029.47 664.37,1027.65 666.1,1026.3 C667.83,1024.95 669.22,1023.73 670.5,1021 C671.78,1018.27 672.65,1012.98 673.8,1009.9 C674.95,1006.82 676.27,1002.5 677.4,1002.5 C678.53,1002.5 679.43,1006.77 680.6,1009.9 C681.77,1013.03 683,1018.52 684.4,1021.3 C685.8,1024.08 687.4,1025.92 689,1026.6 C690.6,1027.28 692.48,1025.15 694,1025.4 C695.52,1025.65 696.78,1027.15 698.1,1028.1 C699.42,1029.05 700.25,1030.33 701.9,1031.1 C703.55,1031.87 706.1,1032.7 708,1032.7 C709.9,1032.7 711.53,1032.37 713.3,1031.1 C715.07,1029.83 717.08,1027.88 718.6,1025.1 C720.12,1022.32 721.27,1017.75 722.4,1014.4 C723.53,1011.05 724.38,1005.25 725.4,1005 C726.42,1004.75 727.35,1009.55 728.5,1012.9 C729.65,1016.25 730.92,1022.07 732.3,1025.1 C733.68,1028.13 735.03,1029.72 736.8,1031.1 C738.57,1032.48 741,1033.18 742.9,1033.4 C744.8,1033.62 746.55,1032.78 748.2,1032.4 C749.85,1032.02 751.15,1030.75 752.8,1031.1 C754.45,1031.45 756.2,1033.73 758.1,1034.5 C760,1035.27 762.55,1035.45 764.2,1035.7 C765.85,1035.95 767.37,1035.95 768,1036" fill="none" stroke="#fff" stroke-width="4.6" stroke-linejoin="round"/>
</g>
<g><line x1="116.6" y1="61.86" x2="130.6" y2="61.86" stroke="#111" stroke-width="2"/><line x1="116.6" y1="138.52" x2="130.6" y2="138.52" stroke="#111" stroke-width="2"/><line x1="116.6" y1="215.18" x2="130.6" y2="215.18" stroke="#111" stroke-width="2"/><line x1="116.6" y1="291.84" x2="130.6" y2="291.84" stroke="#111" stroke-width="2"/><line x1="116.6" y1="369" x2="130.6" y2="369" stroke="#111" stroke-width="2"/><line x1="116.6" y1="445.16" x2="130.6" y2="445.16" stroke="#111" stroke-width="2"/><line x1="116.6" y1="23.53" x2="123.8" y2="23.53" stroke="#111" stroke-width="2"/><line x1="116.6" y1="100.19" x2="123.8" y2="100.19" stroke="#111" stroke-width="2"/><line x1="116.6" y1="176.85" x2="123.8" y2="176.85" stroke="#111" stroke-width="2"/><line x1="116.6" y1="253.51" x2="123.8" y2="253.51" stroke="#111" stroke-width="2"/><line x1="116.6" y1="330.17" x2="123.8" y2="330.17" stroke="#111" stroke-width="2"/><line x1="116.6" y1="406.83" x2="123.8" y2="406.83" stroke="#111" stroke-width="2"/><line x1="116.6" y1="521.2" x2="130.6" y2="521.2" stroke="#111" stroke-width="2"/><line x1="116.6" y1="624.52" x2="130.6" y2="624.52" stroke="#111" stroke-width="2"/><line x1="116.6" y1="727.84" x2="130.6" y2="727.84" stroke="#111" stroke-width="2"/><line x1="116.6" y1="831.16" x2="130.6" y2="831.16" stroke="#111" stroke-width="2"/><line x1="116.6" y1="934.48" x2="130.6" y2="934.48" stroke="#111" stroke-width="2"/><line x1="116.6" y1="1037.8" x2="130.6" y2="1037.8" stroke="#111" stroke-width="2"/><line x1="116.6" y1="572.86" x2="123.8" y2="572.86" stroke="#111" stroke-width="2"/><line x1="116.6" y1="676.18" x2="123.8" y2="676.18" stroke="#111" stroke-width="2"/><line x1="116.6" y1="779.5" x2="123.8" y2="779.5" stroke="#111" stroke-width="2"/><line x1="116.6" y1="882.82" x2="123.8" y2="882.82" stroke="#111" stroke-width="2"/><line x1="116.6" y1="986.14" x2="123.8" y2="986.14" stroke="#111" stroke-width="2"/><line x1="164.4" y1="509.7" x2="164.4" y2="522.0" stroke="#444" stroke-width="1.2"/><line x1="164.4" y1="1029.2" x2="164.4" y2="1042.5" stroke="#111" stroke-width="1.8"/><line x1="356.2" y1="509.7" x2="356.2" y2="522.0" stroke="#444" stroke-width="1.2"/><line x1="356.2" y1="1029.2" x2="356.2" y2="1042.5" stroke="#111" stroke-width="1.8"/><line x1="548" y1="509.7" x2="548" y2="522.0" stroke="#444" stroke-width="1.2"/><line x1="548" y1="1029.2" x2="548" y2="1042.5" stroke="#111" stroke-width="1.8"/><line x1="739.8" y1="509.7" x2="739.8" y2="522.0" stroke="#444" stroke-width="1.2"/><line x1="739.8" y1="1029.2" x2="739.8" y2="1042.5" stroke="#111" stroke-width="1.8"/><line x1="260.3" y1="516" x2="260.3" y2="522.0" stroke="#777" stroke-width="1"/><line x1="260.3" y1="1035.9" x2="260.3" y2="1042.5" stroke="#111" stroke-width="1.8"/><line x1="452.1" y1="516" x2="452.1" y2="522.0" stroke="#777" stroke-width="1"/><line x1="452.1" y1="1035.9" x2="452.1" y2="1042.5" stroke="#111" stroke-width="1.8"/><line x1="643.9" y1="516" x2="643.9" y2="522.0" stroke="#777" stroke-width="1"/><line x1="643.9" y1="1035.9" x2="643.9" y2="1042.5" stroke="#111" stroke-width="1.8"/></g>
<g><line x1="116.6" y1="0" x2="116.6" y2="1044.0" stroke="#111" stroke-width="3.2"/><line x1="768.2" y1="0" x2="768.2" y2="1044.0" stroke="#222" stroke-width="2"/><line x1="115.0" y1="1" x2="769.2" y2="1" stroke="#222" stroke-width="2"/><line x1="115.0" y1="522.0" x2="769.2" y2="522.0" stroke="#111" stroke-width="3.2"/><line x1="115.0" y1="1042.5" x2="769.2" y2="1042.5" stroke="#111" stroke-width="3.2"/></g>
<g clip-path="url(#cp2)">
<path d="M117.8,61.7 L123.2,61.5 L130.4,53.9 L134,57.3 L137.8,59.6 L141.6,59.2 L145.4,61.5 L149.8,67.2 L153,68.7 L159.3,68 L165,65.9 L167.5,66.5 L172,69.9 L174.5,69.9 L185.9,63.4 L193.5,62.1 L204.9,66.5 L208.7,66.3 L212.5,63.4 L215.7,63.4 L219.5,64.6 L223.3,57.7 L226.5,59.6 L230.3,65.9 L234.1,68.8 L237.2,65.9 L241.6,60.2 L244.8,61.5 L248,65.9 L252.4,68.8 L259.4,64.6 L264.4,60.6 L268.2,61.5 L271.4,65.3 L274.6,63.7 L278.4,63.4 L285.3,67.5 L290.4,63.4 L296.1,60.4 L299.9,61.5 L304.3,65.6 L308.2,65.6 L311.3,64 L315.8,60.2 L318.9,61.5 L323.4,68 L326.5,69 L330.3,63.4 L333.5,59.9 L337.9,63 L341.1,62.7 L344.2,61.8 L348.7,64 L353.1,63.4 L359.4,64 L363.9,59.9 L367,58.9 L370.8,61.5 L375.3,59.3 L379.7,58.9 L383.5,59.9 L387.3,58.9 L393,56.4 L396.1,57.7 L401.2,61.5 L404.4,63.1 L411.4,59.6 L422.2,60.4 L429.7,61.5 L436.7,63.7 L443,62.7 L448.1,61.8 L451.9,58.7 L455.1,58 L462,60.4 L467.1,62.1 L473.4,60.4 L478.5,62.3 L482.3,62.1 L488.6,61.7 L493.7,65 L496.2,65.3 L500.1,61.2 L503.9,60.8 L509.6,62.3 L520.3,60.8 L526.6,62.3 L533,63.6 L539.3,60.2 L543.7,59.6 L550.7,61.2 L557,59.8 L565.9,59.8 L574.1,63.6 L577.9,63.4 L583,61.2 L586.1,61.5 L590,63.7 L596.3,65.3 L599.5,64.6 L604.6,60.8 L607.1,60.6 L610.9,62.1 L619.1,60.6 L633,61.2 L640.6,59.9 L644.4,60.8 L650.8,60.2 L655.8,61.5 L662.2,61.2 L666.6,64.6 L669.7,63.4 L674.2,59.6 L681.1,57.7 L686.2,60.8 L688.2,62.3 L696.4,59.6 L702.7,60.2 L710.3,60.2 L717.9,64 L721.7,63.4 L728.7,63.4 L735,61.5 L740.7,64 L748.3,64 L755.9,58.9 L759,59.2 L762.8,62.5 L767.3,64.2" fill="none" stroke="#1a1a1a" stroke-width="2.4" stroke-linejoin="round"/>
<path d="M116.5,196.2 L119.6,190.6 L123.4,193.9 L127.2,197 L130.2,197.4 L134.7,195 L141.6,192.1 L146.1,192.7 L150,189.4 L153.7,181.8 L156.8,170.4 L160.1,157.9 L163.9,169.6 L166.6,190.1 L171.2,248.6 L175,253.2 L177.3,243.3 L181.8,199.2 L185.6,183.3 L189.4,171.1 L193.2,171.1 L198.5,179.5 L204.6,188.6 L208.4,186.3 L212.2,187.4 L216,190.1 L222.9,182.5 L226.7,185.6 L230,187.1 L236.8,190.1 L241.4,185.6 L245.2,185.3 L249,188.9 L252.8,187.1 L256.6,182.2 L259.6,181 L267.2,171.6 L271,176.5 L275.6,188.6 L282.4,202.3 L286.2,216 L290,241.8 L293.4,309.2 L296.4,381.8 L297.2,378 L300.1,333.8 L302.6,260 L303.7,216 L305.2,185.6 L307.8,158.2 L311.7,174.9 L315.1,156.7 L319.3,148.4 L321.1,167.3 L325.7,211.4 L330,241.5 L334.1,231.1 L337.1,211.4 L340.9,198.5 L345.4,192.4 L352.7,188.2 L362.4,185.1 L367.2,178.9 L370.7,167.3 L374,177 L377.9,205.9 L381.7,217.1 L385.6,212.1 L389.4,217.5 L393.3,233 L397.2,235.9 L400.7,234 L403.9,263.9 L407.4,305.5 L411.7,275.5 L415.5,205.9 L418.8,128.6 L422.3,103.1 L425.2,128.6 L430,163.4 L437.4,202.1 L444.5,254.3 L449,249.4 L453.2,205.9 L459,142.2 L463.1,125.4 L465.8,148 L470.6,190.5 L476.4,225.3 L481.6,263.5 L485.1,255.2 L489,205.9 L492.5,158.6 L496.3,145.7 L499.6,165.4 L503.5,182.4 L507.3,182.8 L511.2,184.7 L516,192.4 L519.9,204 L523.8,229.1 L526.7,279.4 L529.6,294.8 L532.5,263.9 L537.3,191.4 L541.2,177.9 L545,171.5 L548.5,172.7 L552.8,178.9 L556.6,182.4 L559.5,183.3 L563.4,185.7 L566.3,184.7 L571.1,177.9 L575,173.5 L577.9,173.4 L584.7,160.8 L588.5,145.4 L592.4,106.7 L596.3,83.1 L600.1,116.4 L604,158.9 L610.7,201.4 L614.6,236.2 L618.5,252.6 L622,228.5 L625.6,214.9 L630.1,230.8 L633,232.7 L636.8,205.3 L640.7,185.9 L644.2,178.6 L651.3,178.8 L659.1,174.3 L666.2,177.2 L670,168.6 L673.8,159.8 L677.6,170.1 L681.4,178.5 L685.2,182.3 L689.7,184.1 L692.8,183 L700.4,174.7 L706.5,173.9 L711,170.1 L718.6,154.6 L722.4,159.8 L725.9,168.6 L732,170.9 L736.1,177.7 L740.6,196.7 L744,201 L746.7,189.9 L751.3,178.5 L755.1,176.5 L758.9,177.4 L762.7,180 L765.7,180.3 L768,181.5" fill="none" stroke="#e60012" stroke-width="2.0" stroke-linejoin="round"/>
<path d="M116.5,369.2 C118.78,369.17 126.4,369.33 130.2,369 C134,368.67 136.77,368.25 139.3,367.2 C141.83,366.15 143.75,364.6 145.4,362.7 C147.05,360.8 148.18,357.78 149.2,355.8 C150.22,353.82 150.75,351.18 151.5,350.8 C152.25,350.42 152.95,351.15 153.7,353.5 C154.45,355.85 154.98,358.18 156,364.9 C157.02,371.62 158.65,383.17 159.8,393.8 C160.95,404.43 162.13,420.72 162.9,428.7 C163.67,436.68 163.78,441.7 164.4,441.7 C165.02,441.7 165.72,435.17 166.6,428.7 C167.48,422.23 168.55,410.48 169.7,402.9 C170.85,395.32 171.98,388 173.5,383.2 C175.02,378.4 177.28,376.52 178.8,374.1 C180.32,371.68 181.33,371.23 182.6,368.7 C183.87,366.17 185.27,361.35 186.4,358.9 C187.53,356.45 188.38,354.13 189.4,354 C190.42,353.87 191.23,356.15 192.5,358.1 C193.77,360.05 195.23,364.05 197,365.7 C198.77,367.35 200.32,367.42 203.1,368 C205.88,368.58 209.22,368.95 213.7,369.2 C218.18,369.45 224.75,369.5 230,369.5 C235.25,369.5 241.15,369.58 245.2,369.2 C249.25,368.82 251.77,368.67 254.3,367.2 C256.83,365.73 258.83,362.1 260.4,360.4 C261.97,358.7 262.68,356.88 263.7,357 C264.72,357.12 265.4,358.88 266.5,361.1 C267.6,363.32 268.78,367.88 270.3,370.3 C271.82,372.72 273.97,373.97 275.6,375.6 C277.23,377.23 278.72,378.13 280.1,380.1 C281.48,382.07 282.75,385.88 283.9,387.4 C285.05,388.92 285.98,388.85 287,389.2 C288.02,389.55 289.12,388.23 290,389.5 C290.88,390.77 291.42,392.03 292.3,396.8 C293.18,401.57 294.42,410 295.3,418.1 C296.18,426.2 296.72,439.58 297.6,445.4 C298.48,451.22 299.33,447.93 300.6,453 C301.87,458.07 303.93,474.78 305.2,475.8 C306.47,476.82 307.32,466.18 308.2,459.1 C309.08,452.02 309.62,444.18 310.5,433.3 C311.38,422.42 312.37,402.42 313.5,393.8 C314.63,385.18 315.52,384.63 317.3,381.6 C319.08,378.57 321.03,377.23 324.2,375.6 C327.37,373.97 332.83,372.65 336.3,371.8 C339.77,370.95 342.28,371.05 345,370.5 C347.72,369.95 350.32,369.72 352.6,368.5 C354.88,367.28 356.88,365.4 358.7,363.2 C360.52,361 362.23,355.3 363.5,355.3 C364.77,355.3 365.33,359.62 366.3,363.2 C367.27,366.78 368.3,374.07 369.3,376.8 C370.3,379.53 371.17,379.47 372.3,379.6 C373.43,379.73 374.7,377.3 376.1,377.6 C377.5,377.9 379.3,379.25 380.7,381.4 C382.1,383.55 383.37,387.47 384.5,390.5 C385.63,393.53 386.23,398.83 387.5,399.6 C388.77,400.37 390.83,395.1 392.1,395.1 C393.37,395.1 394.08,396.07 395.1,399.6 C396.12,403.13 397.18,409.08 398.2,416.3 C399.22,423.52 400.2,440.87 401.2,442.9 C402.2,444.93 402.93,437.73 404.2,428.5 C405.47,419.27 407.4,396.87 408.8,387.5 C410.2,378.13 411.33,377.87 412.6,372.3 C413.87,366.73 415,361.2 416.4,354.1 C417.8,347 419.87,333.38 421,329.7 C422.13,326.02 422.5,330.98 423.2,332 C423.9,333.02 424.43,335.17 425.2,335.8 C425.97,336.43 426.98,335.03 427.8,335.8 C428.62,336.57 429.22,335.83 430.1,340.4 C430.98,344.97 432.1,354.35 433.1,363.2 C434.1,372.05 435.08,383.75 436.1,393.5 C437.12,403.25 438.3,418.15 439.2,421.7 C440.1,425.25 440.48,421.27 441.5,414.8 C442.52,408.33 444.03,391.5 445.3,382.9 C446.57,374.3 447.97,366.87 449.1,363.2 C450.23,359.53 450.72,362.05 452.1,360.9 C453.48,359.75 455.88,356.05 457.4,356.3 C458.92,356.55 459.88,359.98 461.2,362.4 C462.52,364.82 463.6,368.65 465.3,370.8 C467,372.95 469.75,373.53 471.4,375.3 C473.05,377.07 473.93,379.25 475.2,381.4 C476.47,383.55 477.73,387.32 479,388.2 C480.27,389.08 481.03,385.25 482.8,386.7 C484.57,388.15 487.32,397.02 489.6,396.9 C491.88,396.78 494.08,389.08 496.5,386 C498.92,382.92 502.08,379.17 504.1,378.4 C506.12,377.63 507.08,379.13 508.6,381.4 C510.12,383.67 511.8,386.93 513.2,392 C514.6,397.07 515.95,406.6 517,411.8 C518.05,417 518.62,422.95 519.5,423.2 C520.38,423.45 521.33,416.35 522.3,413.3 C523.27,410.25 524.08,405.2 525.3,404.9 C526.52,404.6 528.33,412.88 529.6,411.5 C530.87,410.12 531.58,401.87 532.9,396.6 C534.22,391.33 535.85,383.83 537.5,379.9 C539.15,375.97 540.9,375.28 542.8,373 C544.7,370.72 546.88,366.57 548.9,366.2 C550.92,365.83 553,369.28 554.9,370.8 C556.8,372.32 558.7,373.78 560.3,375.3 C561.9,376.82 562.98,380.15 564.5,379.9 C566.02,379.65 567.83,375.32 569.4,373.8 C570.97,372.28 572.08,371.6 573.9,370.8 C575.72,370 578.47,369.3 580.3,369 C582.13,368.7 583.63,370.27 584.9,369 C586.17,367.73 586.77,366.22 587.9,361.4 C589.03,356.58 590.57,347.45 591.7,340.1 C592.83,332.75 593.87,322.15 594.7,317.3 C595.53,312.45 595.98,310.87 596.7,311 C597.42,311.13 598.07,313 599,318.1 C599.93,323.2 601.23,333.88 602.3,341.6 C603.37,349.32 604.38,358.57 605.4,364.4 C606.42,370.23 607.38,374.52 608.4,376.6 C609.42,378.68 610.35,376.65 611.5,376.9 C612.65,377.15 614.03,376.13 615.3,378.1 C616.57,380.07 617.83,385.53 619.1,388.7 C620.37,391.87 621.65,397.1 622.9,397.1 C624.15,397.1 625.42,390.73 626.6,388.7 C627.78,386.67 628.85,384.63 630,384.9 C631.15,385.17 632.33,388.27 633.5,390.3 C634.67,392.33 635.87,397.62 637,397.1 C638.13,396.58 638.98,390.62 640.3,387.2 C641.62,383.78 643.12,379.68 644.9,376.6 C646.68,373.52 648.85,370.02 651,368.7 C653.15,367.38 655.78,369.03 657.8,368.7 C659.82,368.37 660.95,367.67 663.1,366.7 C665.25,365.73 668.63,364.07 670.7,362.9 C672.77,361.73 674.22,359.5 675.5,359.7 C676.78,359.9 677.55,362.57 678.4,364.1 C679.25,365.63 679.47,368.1 680.6,368.9 C681.73,369.7 683.68,369.07 685.2,368.9 C686.72,368.73 688.43,367.9 689.7,367.9 C690.97,367.9 691.65,368.45 692.8,368.9 C693.95,369.35 695.08,370.57 696.6,370.6 C698.12,370.63 699.75,369.48 701.9,369.1 C704.05,368.72 707.22,368.77 709.5,368.3 C711.78,367.83 713.83,367.13 715.6,366.3 C717.37,365.47 718.53,364.68 720.1,363.3 C721.67,361.92 723.6,358.38 725,358 C726.4,357.62 727.28,359.62 728.5,361 C729.72,362.38 730.15,364.53 732.3,366.3 C734.45,368.07 739.12,369.95 741.4,371.6 C743.68,373.25 744.6,374.03 746,376.2 C747.4,378.37 748.8,382.37 749.8,384.6 C750.8,386.83 751.12,389.73 752,389.6 C752.88,389.47 753.83,386.28 755.1,383.8 C756.37,381.32 757.45,376.78 759.6,374.7 C761.75,372.62 766.6,371.87 768,371.3" fill="none" stroke="#e60012" stroke-width="2.0" stroke-linejoin="round"/>
<path d="M117.3,880.1 L123.4,875.6 L127.2,874.1 L130.2,873.6 L134.7,870.3 L137.8,869 L143.1,870 L147.7,869 L153,864.2 L159.1,852 L164.4,835.3 L168.2,812.5 L171.2,787.5 L175,786.7 L178,803.4 L181.8,824.7 L186.4,831.5 L189.4,831.5 L193.2,838.4 L197.8,852 L204.6,874.8 L208.4,877.1 L212.2,873 L215.3,873.6 L219.8,880.6 L222.9,882.7 L226.7,878.6 L230.4,877.5 L233,879 L237.9,882.3 L241.1,882 L245,876.8 L249,875.2 L252.1,876.3 L255.3,871.3 L259.2,861.8 L263.2,846 L267.2,836.5 L271.1,847.5 L275.1,855.5 L278.2,857 L281.9,859.4 L285.3,852.3 L288.5,825.4 L291.7,785.9 L294.8,754.3 L296.7,740 L299.6,747.9 L303.5,754.3 L305.9,733.7 L308.3,710 L311.4,611.2 L315.4,548.7 L318.8,611.2 L321.7,690 L323.3,733.7 L326.4,776.4 L332.8,812.8 L337.5,841.2 L340.7,853.1 L345.4,858.6 L351.1,863.3 L359.4,870.6 L364.7,861.8 L370.8,850.4 L374.6,847.3 L377.7,847.3 L381.5,844.3 L385.7,839 L389.1,826.8 L392.9,804.8 L397,806.3 L400.4,824.6 L403.9,825.3 L407.3,815.9 L411.1,822.6 L415.2,829.9 L419.4,807.9 L422.5,798.3 L425.5,816.2 L429.3,837.2 L433.9,834.4 L436.9,826.8 L440.7,822.3 L444.5,825 L448.3,832.9 L452.1,842 L455.9,842.5 L459.7,827.6 L463.1,821.6 L466.8,836.6 L470.6,850.3 L474.4,852.5 L478.2,842.7 L482,827.5 L485.1,813.8 L488.9,807.7 L492.7,789.5 L496.2,770.5 L500.3,798.6 L504.1,837.3 L507.1,853.3 L510.9,857.1 L514.7,853.3 L518.5,845.7 L523.8,840.4 L529.1,837.3 L532.9,845.7 L537.5,857.9 L541.3,862.7 L547.3,863.2 L551.9,859.4 L555.7,854.8 L559.5,857.1 L564.1,863.6 L569.4,867 L575.5,863.9 L581.1,860.3 L585.6,854.9 L588.7,842.8 L592.5,820 L596.3,811.3 L600.1,821.5 L603.9,820.5 L607.2,812.4 L610.7,812.4 L614.8,801 L618.7,799.2 L622.1,826.8 L625.9,841.3 L629.7,833.2 L633.5,835.6 L637.3,847.3 L644.1,853 L647.9,861 L651.7,867.9 L654.8,869.1 L658.5,865.6 L663.1,854.2 L666.9,841.3 L669.9,832.9 L673.8,843.8 L677.6,859 L681.4,863.5 L684.4,863.9 L688.2,860.8 L692,859.3 L697.3,863.5 L702.7,866.9 L707.2,866.6 L710.7,859 L714.8,843.8 L718.3,828.9 L722.4,837 L725.9,854.4 L729.2,865.8 L733,868.9 L736.8,868.9 L742.9,867.3 L747.5,868.9 L758.1,869.6 L763.4,866.9 L768,862.8" fill="none" stroke="#2b3596" stroke-width="2.0" stroke-linejoin="round"/>
<path d="M116.5,1036.3 C117.77,1036.18 120.8,1035.97 124.1,1035.6 C127.4,1035.23 133.13,1034.87 136.3,1034.1 C139.47,1033.33 141.2,1032.4 143.1,1031 C145,1029.6 146.18,1027.98 147.7,1025.7 C149.22,1023.42 150.82,1019.58 152.2,1017.3 C153.58,1015.02 154.85,1014.65 156,1012 C157.15,1009.35 158.22,1006.97 159.1,1001.4 C159.98,995.83 160.6,985.95 161.3,978.6 C162,971.25 162.78,961.48 163.3,957.3 C163.82,953.12 163.97,953.37 164.4,953.5 C164.83,953.63 165.27,953.92 165.9,958.1 C166.53,962.28 167.32,971.38 168.2,978.6 C169.08,985.82 170.07,995.32 171.2,1001.4 C172.33,1007.48 173.6,1011.82 175,1015.1 C176.4,1018.38 178.33,1020.47 179.6,1021.1 C180.87,1021.73 181.47,1021.3 182.6,1018.9 C183.73,1016.5 185.32,1010.12 186.4,1006.7 C187.48,1003.28 188.33,999.42 189.1,998.4 C189.87,997.38 190.18,998.08 191,1000.6 C191.82,1003.12 192.87,1009.32 194,1013.5 C195.13,1017.68 196.28,1022.7 197.8,1025.7 C199.32,1028.7 200.7,1030.15 203.1,1031.5 C205.5,1032.85 209.17,1033.3 212.2,1033.8 C215.23,1034.3 218.33,1034.47 221.3,1034.5 C224.27,1034.53 226.32,1034.38 230,1034 C233.68,1033.62 239.67,1032.95 243.4,1032.2 C247.13,1031.45 249.97,1031.07 252.4,1029.5 C254.83,1027.93 256.52,1025.4 258,1022.8 C259.48,1020.2 260.3,1016.52 261.3,1013.9 C262.3,1011.28 262.95,1007.67 264,1007.1 C265.05,1006.53 266.37,1009.67 267.6,1010.5 C268.83,1011.33 269.83,1010.72 271.4,1012.1 C272.97,1013.48 275.13,1018.32 277,1018.8 C278.87,1019.28 280.73,1017.32 282.6,1015 C284.47,1012.68 286.33,1010.32 288.2,1004.9 C290.07,999.48 292.3,991.45 293.8,982.5 C295.3,973.55 296.27,957.73 297.2,951.2 C298.13,944.67 298.58,945.35 299.4,943.3 C300.22,941.25 300.98,947.67 302.1,938.9 C303.22,930.13 304.68,908.05 306.1,890.7 C307.52,873.35 309.48,849.27 310.6,834.8 C311.72,820.33 312.13,806.52 312.8,803.9 C313.47,801.28 313.85,802.77 314.6,819.1 C315.35,835.43 316.1,876.9 317.3,901.9 C318.5,926.9 320.12,951.93 321.8,969.1 C323.48,986.27 325.17,996.13 327.4,1004.9 C329.63,1013.67 332.4,1018.15 335.2,1021.7 C338,1025.25 341.55,1025.63 344.2,1026.2 C346.85,1026.77 349.2,1026.17 351.1,1025.1 C353,1024.03 354.08,1023.35 355.6,1019.8 C357.12,1016.25 358.93,1009.25 360.2,1003.8 C361.47,998.35 362.37,990.77 363.2,987.1 C364.03,983.43 364.43,981.8 365.2,981.8 C365.97,981.8 366.62,983.43 367.8,987.1 C368.98,990.77 370.92,999.88 372.3,1003.8 C373.68,1007.72 374.83,1010.35 376.1,1010.6 C377.37,1010.85 378.63,1010.73 379.9,1005.3 C381.17,999.87 382.48,985.72 383.7,978 C384.92,970.28 386.18,960.27 387.2,959 C388.22,957.73 388.85,964.97 389.8,970.4 C390.75,975.83 392.02,987.17 392.9,991.6 C393.78,996.03 394.22,998 395.1,997 C395.98,996 397.18,988.9 398.2,985.6 C399.22,982.3 400.2,976.7 401.2,977.2 C402.2,977.7 403.07,983.92 404.2,988.6 C405.33,993.28 406.73,1001.05 408,1005.3 C409.27,1009.55 410.4,1013.58 411.8,1014.1 C413.2,1014.62 415,1011.63 416.4,1008.4 C417.8,1005.17 419.07,997.75 420.2,994.7 C421.33,991.65 422.18,992.88 423.2,990.1 C424.22,987.32 425.33,981.53 426.3,978 C427.27,974.47 428,968.65 429,968.9 C430,969.15 431.23,975.77 432.3,979.5 C433.37,983.23 434.13,990.17 435.4,991.3 C436.67,992.43 438.38,985.35 439.9,986.3 C441.42,987.25 442.97,995.68 444.5,997 C446.03,998.32 447.77,994.2 449.1,994.2 C450.43,994.2 451.17,997.88 452.5,997 C453.83,996.12 455.77,988.27 457.1,988.9 C458.43,989.53 459.38,997.6 460.5,1000.8 C461.62,1004 462.62,1005.37 463.8,1008.1 C464.98,1010.83 466.2,1015.05 467.6,1017.2 C469,1019.35 470.68,1021 472.2,1021 C473.72,1021 475.18,1019.85 476.7,1017.2 C478.22,1014.55 479.9,1011.17 481.3,1005.1 C482.7,999.03 483.97,990.43 485.1,980.8 C486.23,971.17 487.27,954.4 488.1,947.3 C488.93,940.2 489.33,937.93 490.1,938.2 C490.87,938.47 491.77,944.58 492.7,948.9 C493.63,953.22 494.7,957.52 495.7,964.1 C496.7,970.68 497.57,980.82 498.7,988.4 C499.83,995.98 500.85,1004.42 502.5,1009.6 C504.15,1014.78 506.82,1018.73 508.6,1019.5 C510.38,1020.27 511.8,1017.62 513.2,1014.2 C514.6,1010.78 516,1002.42 517,999 C518,995.58 518.32,992.95 519.2,993.7 C520.08,994.45 521.15,1000.47 522.3,1003.5 C523.45,1006.53 524.88,1010.32 526.1,1011.9 C527.32,1013.48 528.47,1011.87 529.6,1013 C530.73,1014.13 531.72,1016.6 532.9,1018.7 C534.08,1020.8 535.18,1023.87 536.7,1025.6 C538.22,1027.33 540.1,1028.52 542,1029.1 C543.9,1029.68 545.95,1029 548.1,1029.1 C550.25,1029.2 553,1030.28 554.9,1029.7 C556.8,1029.12 557.9,1027.17 559.5,1025.6 C561.1,1024.03 562.98,1020.43 564.5,1020.3 C566.02,1020.17 567.15,1023.48 568.6,1024.8 C570.05,1026.12 571.8,1027.7 573.2,1028.2 C574.6,1028.7 575.82,1028.12 577,1027.8 C578.18,1027.48 578.87,1027.68 580.3,1026.3 C581.73,1024.92 583.95,1021.9 585.6,1019.5 C587.25,1017.1 588.93,1015.82 590.2,1011.9 C591.47,1007.98 592.12,1000.93 593.2,996 C594.28,991.07 595.68,983.57 596.7,982.3 C597.72,981.03 598.32,985.67 599.3,988.4 C600.28,991.13 601.28,998.33 602.6,998.7 C603.92,999.07 605.85,990.8 607.2,990.6 C608.55,990.4 609.48,994.78 610.7,997.5 C611.92,1000.22 613.23,1006.9 614.5,1006.9 C615.77,1006.9 616.98,1002.75 618.3,997.5 C619.62,992.25 621.27,977.68 622.4,975.4 C623.53,973.12 624.13,979.12 625.1,983.8 C626.07,988.48 627.13,998.95 628.2,1003.5 C629.27,1008.05 630.12,1010.83 631.5,1011.1 C632.88,1011.37 635.03,1004.72 636.5,1005.1 C637.97,1005.48 638.9,1010.67 640.3,1013.4 C641.7,1016.13 643.25,1020.4 644.9,1021.5 C646.55,1022.6 648.68,1019.57 650.2,1020 C651.72,1020.43 652.35,1022.58 654,1024.1 C655.65,1025.62 658.08,1028.73 660.1,1029.1 C662.12,1029.47 664.37,1027.65 666.1,1026.3 C667.83,1024.95 669.22,1023.73 670.5,1021 C671.78,1018.27 672.65,1012.98 673.8,1009.9 C674.95,1006.82 676.27,1002.5 677.4,1002.5 C678.53,1002.5 679.43,1006.77 680.6,1009.9 C681.77,1013.03 683,1018.52 684.4,1021.3 C685.8,1024.08 687.4,1025.92 689,1026.6 C690.6,1027.28 692.48,1025.15 694,1025.4 C695.52,1025.65 696.78,1027.15 698.1,1028.1 C699.42,1029.05 700.25,1030.33 701.9,1031.1 C703.55,1031.87 706.1,1032.7 708,1032.7 C709.9,1032.7 711.53,1032.37 713.3,1031.1 C715.07,1029.83 717.08,1027.88 718.6,1025.1 C720.12,1022.32 721.27,1017.75 722.4,1014.4 C723.53,1011.05 724.38,1005.25 725.4,1005 C726.42,1004.75 727.35,1009.55 728.5,1012.9 C729.65,1016.25 730.92,1022.07 732.3,1025.1 C733.68,1028.13 735.03,1029.72 736.8,1031.1 C738.57,1032.48 741,1033.18 742.9,1033.4 C744.8,1033.62 746.55,1032.78 748.2,1032.4 C749.85,1032.02 751.15,1030.75 752.8,1031.1 C754.45,1031.45 756.2,1033.73 758.1,1034.5 C760,1035.27 762.55,1035.45 764.2,1035.7 C765.85,1035.95 767.37,1035.95 768,1036" fill="none" stroke="#2b3596" stroke-width="2.0" stroke-linejoin="round"/>
</g>
<g><text transform="translate(48.95,78.34) scale(1.0909,1.0259)" font-size="30.0">100</text><text transform="translate(64.76,155.73) scale(1.1607,1.0762)" font-size="30.0">75</text><text transform="translate(65.48,231.84) scale(1.1387,1.0400)" font-size="30.0">50</text><text transform="translate(64.66,308.34) scale(1.1574,1.0447)" font-size="30.0">25</text><text transform="translate(83.82,385.54) scale(1.1860,1.0541)" font-size="30.0">0</text><text transform="translate(53.41,461.44) scale(1.1117,1.0541)" font-size="30.0">-25</text><text transform="translate(29.52,538.04) scale(1.1004,1.0400)" font-size="30.0">1000</text><text transform="translate(46.69,641.15) scale(1.1267,1.0186)" font-size="30.0">800</text><text transform="translate(46.19,744.33) scale(1.1389,1.0729)" font-size="30.0">600</text><text transform="translate(46.14,848.83) scale(1.1440,1.0635)" font-size="30.0">400</text><text transform="translate(45.26,952.13) scale(1.1621,1.0635)" font-size="30.0">200</text><text transform="translate(83.49,1053.75) scale(1.2070,0.9835)" font-size="30.0">0</text><text transform="translate(128.91,1089.33) scale(1.1083,1.0682)" font-size="30.0">1600</text><text transform="translate(323.50,1089.34) scale(1.1115,1.0588)" font-size="30.0">1400</text><text transform="translate(519.01,1089.24) scale(1.1051,1.0494)" font-size="30.0">1200</text><text transform="translate(714.63,1089.34) scale(1.0988,1.0588)" font-size="30.0">1000</text><text transform="translate(126.07,284.61) scale(1.0174,1.1820)" font-size="30.0">Observed</text><text transform="translate(127.02,496.92) scale(0.9859,1.1685)" font-size="30.0">Calculated</text><text transform="translate(131.68,758.34) scale(1.0166,1.1281)" font-size="30.0">Observed</text><text transform="translate(130.23,929.54) scale(0.9816,1.1191)" font-size="30.0">Calculated</text><text transform="translate(299.75,1129.24) scale(1.0198,1.1191)" font-size="30.0">Wavenumber</text><text transform="translate(493.33,1129.57) scale(1.0681,1.1893)" font-size="30.0">(cm</text><text transform="translate(550.56,1119.30) scale(0.9586,1.0000)" font-size="30.0">−</text><text transform="translate(569.38,1116.10) scale(0.4077,0.8096)" font-size="30.0">1</text><text transform="translate(579.96,1130.97) scale(1.3419,1.1893)" font-size="30.0">)</text><text transform="translate(31.83,348.62) rotate(-90) scale(1.1200,1.0918)" font-size="30.0">Δε × 10</text><text transform="translate(16.60,233.79) rotate(-90) scale(0.7929,0.8047)" font-size="30.0">3</text><text transform="translate(31.24,930.51) rotate(-90) scale(1.0428,1.1929)" font-size="30.0">Molar absorptivity (ε)</text></g>
</svg></body></html>
